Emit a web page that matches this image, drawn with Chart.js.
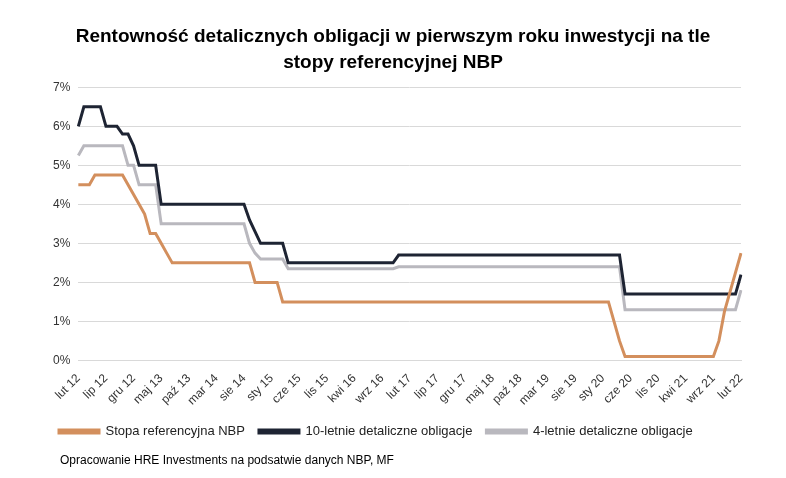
<!DOCTYPE html>
<html><head><meta charset="utf-8">
<script src="https://cdn.jsdelivr.net/npm/chart.js@4"></script>
<style>body{margin:0;background:#fff}#w{position:relative;width:786px;height:478px}
#src{position:absolute;left:60px;top:453px;font:12px "Liberation Sans",Arial,sans-serif;color:#000}</style>
</head><body><div id="w"><canvas id="c" width="786" height="478"></canvas><div id="src">Opracowanie HRE Investments na podsatwie danych NBP, MF</div></div>
<script>
const monthNames=['sty','lut','mar','kwi','maj','cze','lip','sie','wrz','paź','lis','gru'];
const categories=[];
for(let i=0;i<121;i++){const m=(1+i)%12,y=12+Math.floor((1+i)/12);categories.push(monthNames[m]+' '+y);}
const tickLabels=['lut 12','lip 12','gru 12','maj 13','paź 13','mar 14','sie 14','sty 15','cze 15','lis 15','kwi 16','wrz 16','lut 17','lip 17','gru 17','maj 18','paź 18','mar 19','sie 19','sty 20','cze 20','lis 20','kwi 21','wrz 21','lut 22'];
const nbp=[4.5,4.5,4.5,4.75,4.75,4.75,4.75,4.75,4.75,4.5,
4.25,4.0,3.75,3.25,3.25,3.0,2.75,2.5,2.5,2.5,
2.5,2.5,2.5,2.5,2.5,2.5,2.5,2.5,2.5,2.5,
2.5,2.5,2.0,2.0,2.0,2.0,2.0,1.5,1.5,1.5,
1.5,1.5,1.5,1.5,1.5,1.5,1.5,1.5,1.5,1.5,
1.5,1.5,1.5,1.5,1.5,1.5,1.5,1.5,1.5,1.5,
1.5,1.5,1.5,1.5,1.5,1.5,1.5,1.5,1.5,1.5,
1.5,1.5,1.5,1.5,1.5,1.5,1.5,1.5,1.5,1.5,
1.5,1.5,1.5,1.5,1.5,1.5,1.5,1.5,1.5,1.5,
1.5,1.5,1.5,1.5,1.5,1.5,1.5,1.0,0.5,0.1,
0.1,0.1,0.1,0.1,0.1,0.1,0.1,0.1,0.1,0.1,
0.1,0.1,0.1,0.1,0.1,0.1,0.5,1.25,1.75,2.25,
2.75];
const bond10=[6.0,6.5,6.5,6.5,6.5,6.0,6.0,6.0,5.8,5.8,
5.5,5.0,5.0,5.0,5.0,4.0,4.0,4.0,4.0,4.0,
4.0,4.0,4.0,4.0,4.0,4.0,4.0,4.0,4.0,4.0,
4.0,3.6,3.3,3.0,3.0,3.0,3.0,3.0,2.5,2.5,
2.5,2.5,2.5,2.5,2.5,2.5,2.5,2.5,2.5,2.5,
2.5,2.5,2.5,2.5,2.5,2.5,2.5,2.5,2.7,2.7,
2.7,2.7,2.7,2.7,2.7,2.7,2.7,2.7,2.7,2.7,
2.7,2.7,2.7,2.7,2.7,2.7,2.7,2.7,2.7,2.7,
2.7,2.7,2.7,2.7,2.7,2.7,2.7,2.7,2.7,2.7,
2.7,2.7,2.7,2.7,2.7,2.7,2.7,2.7,2.7,1.7,
1.7,1.7,1.7,1.7,1.7,1.7,1.7,1.7,1.7,1.7,
1.7,1.7,1.7,1.7,1.7,1.7,1.7,1.7,1.7,1.7,
2.2];
const bond4=[5.25,5.5,5.5,5.5,5.5,5.5,5.5,5.5,5.5,5.0,
5.0,4.5,4.5,4.5,4.5,3.5,3.5,3.5,3.5,3.5,
3.5,3.5,3.5,3.5,3.5,3.5,3.5,3.5,3.5,3.5,
3.5,3.0,2.75,2.6,2.6,2.6,2.6,2.6,2.35,2.35,
2.35,2.35,2.35,2.35,2.35,2.35,2.35,2.35,2.35,2.35,
2.35,2.35,2.35,2.35,2.35,2.35,2.35,2.35,2.4,2.4,
2.4,2.4,2.4,2.4,2.4,2.4,2.4,2.4,2.4,2.4,
2.4,2.4,2.4,2.4,2.4,2.4,2.4,2.4,2.4,2.4,
2.4,2.4,2.4,2.4,2.4,2.4,2.4,2.4,2.4,2.4,
2.4,2.4,2.4,2.4,2.4,2.4,2.4,2.4,2.4,1.3,
1.3,1.3,1.3,1.3,1.3,1.3,1.3,1.3,1.3,1.3,
1.3,1.3,1.3,1.3,1.3,1.3,1.3,1.3,1.3,1.3,
1.8];
const F='"Liberation Sans", Arial, sans-serif';
const ds=(label,data,color)=>({label,data,borderColor:color,backgroundColor:color,borderWidth:3,pointRadius:0,tension:0});
new Chart(document.getElementById('c'),{type:'line',
data:{labels:categories,datasets:[ds('Stopa referencyjna NBP',nbp,'#D38F5D'),ds('10-letnie detaliczne obligacje',bond10,'#1E2433'),ds('4-letnie detaliczne obligacje',bond4,'#B9B8BE')]},
options:{responsive:false,animation:false,
layout:{padding:{left:45,right:45,top:14,bottom:30}},
plugins:{title:{display:true,text:['Rentowność detalicznych obligacji w pierwszym roku inwestycji na tle','stopy referencyjnej NBP'],color:'#000',font:{family:F,size:19,weight:'bold',lineHeight:1.35},padding:{top:10,bottom:12}},
legend:{position:'bottom',align:'start',labels:{boxWidth:40,boxHeight:3,color:'#222',font:{family:F,size:13},padding:14}},tooltip:{enabled:false}},
scales:{y:{min:0,max:7,ticks:{stepSize:1,callback:v=>v+'%',color:'#333',font:{family:F,size:12},padding:8},grid:{color:'#d9d9d9',drawTicks:false},border:{display:false}},
x:{grid:{display:false},border:{color:'#d9d9d9'},ticks:{autoSkip:false,maxRotation:45,minRotation:45,color:'#333',font:{family:F,size:12},
callback:function(v,i){const l=categories[i];return tickLabels.includes(l)?l:null;}}}}}});
</script></body></html>
